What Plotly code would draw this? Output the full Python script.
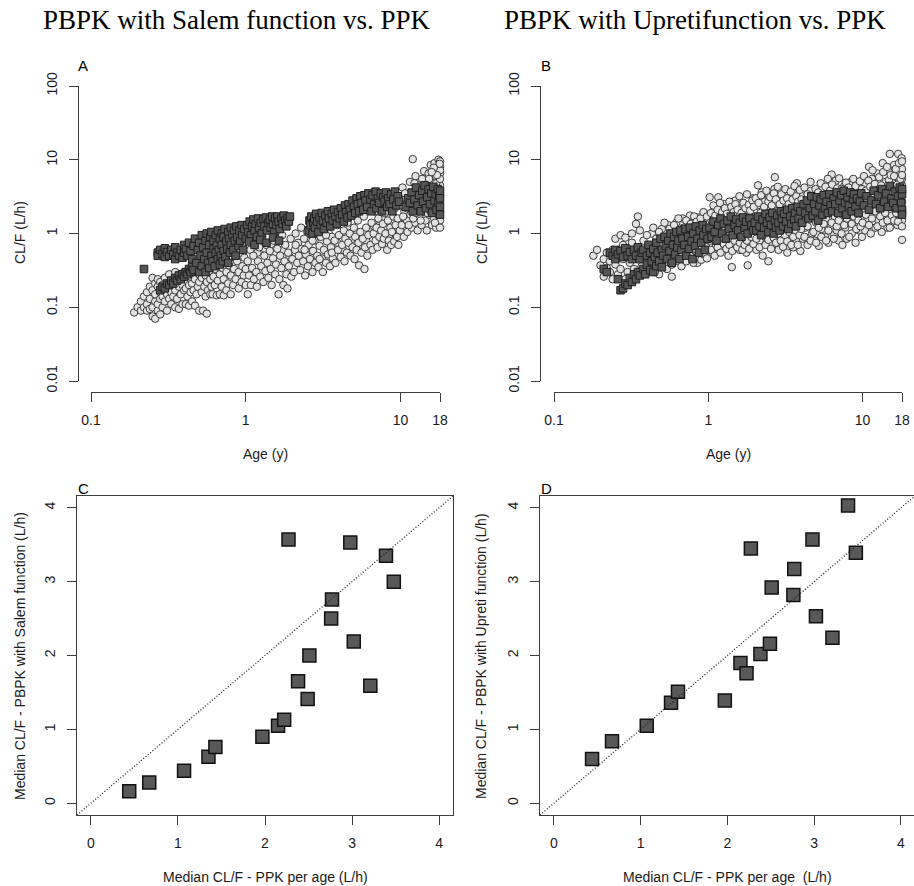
import math
import plotly.graph_objects as go

W, H = 914, 886

# ---------------- data ----------------
age_ticks = [0.1, 1, 10, 18]
age_ticktext = ["0.1", "1", "10", "18"]
cl_ticks = [0.01, 0.1, 1, 10, 100]
cl_ticktext = ["0.01", "0.1", "1", "10", "100"]
med_ticks = [0, 1, 2, 3, 4]

# Panel A: PPK individual CL/F (age, CL/F)
A_PPK = [
 (0.19,0.085),(0.20,0.10),(0.21,0.09),(0.21,0.12),(0.22,0.10),(0.22,0.14),(0.23,0.09),(0.23,0.16),(0.23,0.11),
 (0.24,0.095),(0.24,0.13),(0.24,0.19),(0.25,0.075),(0.25,0.10),(0.25,0.17),(0.25,0.25),(0.26,0.07),(0.26,0.12),
 (0.26,0.15),(0.26,0.21),(0.27,0.09),(0.27,0.11),(0.27,0.19),(0.27,0.24),(0.28,0.08),(0.28,0.13),(0.28,0.16),(0.28,0.22),
 (0.29,0.10),(0.29,0.14),(0.29,0.2),(0.30,0.12),(0.30,0.17),(0.30,0.25),(0.31,0.09),(0.31,0.15),(0.31,0.21),(0.32,0.13),
 (0.32,0.18),(0.32,0.28),(0.33,0.11),(0.33,0.16),(0.33,0.23),(0.34,0.14),(0.34,0.2),(0.35,0.1),(0.35,0.17),(0.35,0.3),
 (0.36,0.13),(0.36,0.22),(0.37,0.095),(0.37,0.19),(0.38,0.15),(0.38,0.26),(0.39,0.11),(0.39,0.2),(0.40,0.17),(0.40,0.3),
 (0.41,0.11),(0.41,0.18),(0.41,0.27),(0.42,0.14),(0.42,0.23),(0.43,0.105),(0.43,0.2),(0.43,0.33),(0.44,0.16),(0.44,0.26),
 (0.45,0.12),(0.45,0.21),(0.46,0.17),(0.46,0.3),(0.47,0.105),(0.47,0.24),(0.48,0.15),(0.48,0.36),(0.49,0.19),(0.5,0.09),
 (0.5,0.22),(0.5,0.28),(0.52,0.16),(0.52,0.25),(0.53,0.09),(0.53,0.34),(0.54,0.19),(0.55,0.14),(0.55,0.27),(0.56,0.082),
 (0.56,0.22),(0.57,0.17),(0.57,0.4),(0.58,0.3),(0.59,0.15),(0.59,0.24),(0.6,0.19),(0.6,0.45),
 (0.61,0.15),(0.62,0.26),(0.62,0.5),(0.63,0.2),(0.64,0.33),(0.65,0.145),(0.65,0.6),(0.66,0.23),(0.67,0.4),(0.68,0.15),
 (0.68,0.28),(0.7,0.19),(0.7,0.52),(0.71,0.34),(0.72,0.145),(0.72,0.24),(0.74,0.44),(0.75,0.17),(0.75,0.3),(0.77,0.21),
 (0.77,0.62),(0.78,0.37),(0.8,0.15),(0.8,0.27),(0.82,0.48),(0.83,0.2),(0.84,0.33),(0.86,0.24),(0.86,0.7),(0.88,0.42),
 (0.9,0.18),(0.9,0.3),(0.92,0.55),(0.94,0.22),(0.95,0.36),(0.97,0.27),(0.98,0.47),(1.0,0.2),(1.0,0.33),
 (0.55,0.35),(0.63,0.42),(0.73,0.52),(0.81,0.58),(0.89,0.62),(0.96,0.75),(1.06,0.85),(1.19,0.55),(1.33,0.62),
 (1.46,0.72),(1.61,0.44),(1.74,0.6),(1.92,0.48),
 (1.03,0.15),(1.03,0.42),(1.05,0.27),(1.07,0.6),(1.08,0.2),(1.1,0.34),(1.12,0.5),(1.13,0.24),(1.15,0.78),(1.17,0.3),
 (1.18,0.19),(1.2,0.42),(1.22,0.65),(1.24,0.26),(1.26,0.36),(1.28,0.9),(1.3,0.22),(1.32,0.5),(1.34,0.31),(1.36,0.7),
 (1.38,0.4),(1.4,0.25),(1.43,0.58),(1.45,0.33),(1.47,0.2),(1.5,0.46),(1.52,0.8),(1.55,0.28),(1.57,0.38),(1.6,0.62),
 (1.63,0.15),(1.65,0.24),(1.67,0.5),(1.7,0.34),(1.72,0.95),(1.75,0.2),(1.78,0.42),(1.8,0.7),(1.83,0.28),(1.86,0.18),
 (1.88,0.55),(1.9,0.36),(1.95,0.85),(1.97,0.26),(2.0,0.45),
 (2.05,0.3),(2.08,0.6),(2.1,1.0),(2.15,0.4),(2.18,0.75),(2.2,0.5),(2.25,0.32),(2.28,1.2),(2.3,0.62),(2.35,0.42),
 (2.38,0.85),(2.42,0.27),(2.45,0.52),(2.5,1.05),(2.52,0.36),(2.55,0.7),(2.6,0.45),(2.65,0.95),(2.7,0.3),(2.72,0.58),
 (2.78,0.8),(2.82,0.4),(2.88,1.15),(2.9,0.5),(2.95,0.35),(3.0,0.68),(3.05,0.9),(3.1,0.46),(3.15,0.3),(3.2,0.6),
 (3.25,1.2),(3.3,0.4),(3.35,0.78),(3.4,0.52),(3.45,1.0),(3.5,0.36),(3.55,0.65),(3.6,0.9),(3.65,0.46),
 (2.1,0.7),(2.4,0.6),(2.7,0.8),(3.0,0.45),(3.3,0.95),(3.6,0.55),(3.9,0.75),(4.25,0.6),(4.6,1.25),(4.9,0.85),
 (5.25,1.0),(5.6,0.7),(6.0,0.8),(6.35,1.1),(6.75,1.25),(7.05,0.95),(7.35,1.3),(7.7,1.6),(8.1,1.25),(8.45,0.95),
 (8.9,1.4),(9.35,1.15),(9.75,1.4),
 (3.75,0.8),(3.8,0.4),(3.9,1.3),(3.95,0.6),(4.0,0.95),(4.1,0.48),(4.15,1.6),(4.2,0.7),(4.3,1.1),(4.35,0.42),
 (4.4,0.85),(4.5,0.55),(4.55,1.4),(4.6,0.75),(4.7,1.0),(4.75,0.5),(4.8,1.8),(4.9,0.65),(5.0,1.2),(5.05,0.45),
 (5.1,0.9),(5.2,0.6),(5.3,1.5),(5.35,0.75),(5.4,0.37),(5.5,1.05),(5.6,0.55),(5.7,0.85),(5.8,1.7),(5.85,0.33),
 (5.9,0.65),(6.0,1.2),(6.1,0.5),(6.2,0.95),
 (6.4,0.7),(6.5,1.4),(6.6,0.6),(6.7,1.0),(6.8,2.0),(6.9,0.8),(7.0,1.2),(7.1,0.65),(7.2,1.6),(7.3,0.9),
 (7.4,2.4),(7.5,1.1),(7.6,0.72),(7.7,1.35),(7.8,0.85),(7.9,1.9),(8.0,1.0),(8.2,0.6),(8.3,1.5),(8.4,0.8),
 (8.5,2.6),(8.6,1.2),(8.7,0.7),(8.8,1.05),(9.0,1.7),(9.1,0.78),(9.2,2.2),(9.3,1.3),(9.5,0.9),(9.6,1.6),
 (9.7,0.7),(9.8,2.9),(9.9,1.1),
 (10.2,1.3),(10.3,4.2),(10.5,0.9),(10.6,2.0),(10.8,3.0),(11.0,1.5),(11.1,1.05),(11.3,2.5),(11.5,5.0),(11.6,1.8),
 (11.8,1.2),(12.0,10.2),(12.0,3.5),(12.2,2.2),(12.4,1.4),(12.5,6.0),(12.7,2.8),(12.9,1.1),(13.0,4.5),(13.2,1.7),
 (13.4,3.2),(13.5,2.3),(13.7,1.3),(13.8,5.5),(14.0,2.0),(14.2,7.0),(14.3,3.8),(14.5,1.5),(14.7,2.6),(14.8,1.1),
 (15.0,4.2),(15.2,6.5),(15.3,1.8),(15.5,3.0),(15.7,8.5),(15.8,2.2),(16.0,1.3),(16.1,5.0),(16.3,3.5),(16.5,1.6),
 (16.6,9.0),(16.7,2.5),(16.9,6.0),(17.0,1.2),(17.1,4.0),(17.3,2.9),(17.4,7.5),(17.5,1.8),(17.6,10.0),(17.7,5.0),
 (17.8,2.2),(17.9,3.4),(18.0,9.5),(18.0,6.5),(18.0,1.5),(18.0,2.6),(18.0,4.5),(18.0,8.0),
 (10.1,2.4),(10.4,1.7),(10.7,3.5),(11.0,2.2),(11.3,1.3),(11.7,3.0),(12.1,1.6),(12.3,4.8),(12.6,1.9),(12.9,3.3),
 (13.2,2.6),(13.5,1.5),(13.9,4.0),(14.2,2.3),(14.6,3.3),(14.9,1.9),(15.3,5.5),(15.6,2.0),(16.0,3.8),(16.3,2.4),
 (16.7,1.4),(17.0,4.8),(17.3,2.0),(17.6,3.0),(18.0,1.2),(18.0,3.3),(18.0,5.5),(18.0,7.2),(18.0,2.0),(17.9,8.8),
 (17.2,6.2),(16.4,7.8),(15.9,6.8),
]

# Panel A: PBPK (Salem function) individual CL/F
A_PBPK = [
 (0.22,0.33),(0.27,0.55),(0.27,0.5),(0.28,0.6),(0.28,0.17),(0.29,0.53),(0.29,0.19),(0.3,0.63),(0.3,0.48),(0.3,0.18),
 (0.31,0.56),(0.31,0.21),(0.32,0.5),(0.32,0.2),(0.33,0.6),(0.33,0.23),(0.34,0.52),(0.34,0.21),(0.35,0.65),(0.35,0.45),
 (0.35,0.25),(0.36,0.55),(0.36,0.23),(0.37,0.5),(0.37,0.27),(0.38,0.6),(0.38,0.24),(0.39,0.47),(0.39,0.28),(0.4,0.7),
 (0.4,0.55),(0.4,0.26),(0.41,0.62),(0.41,0.3),(0.42,0.5),(0.42,0.28),(0.43,0.75),(0.43,0.33),(0.44,0.58),(0.44,0.3),
 (0.45,0.45),(0.45,0.35),(0.46,0.68),(0.46,0.32),
 (0.47,0.85),(0.48,0.4),(0.49,0.6),(0.5,0.3),(0.5,0.75),(0.51,0.5),(0.52,0.95),(0.52,0.36),(0.53,0.65),(0.54,0.45),
 (0.55,0.8),(0.55,0.3),(0.56,1.0),(0.56,0.55),(0.57,0.4),(0.58,0.7),(0.58,0.34),(0.59,0.9),(0.6,0.5),(0.6,1.05),
 (0.61,0.42),(0.62,0.62),(0.62,0.8),(0.63,0.36),(0.64,0.95),(0.64,0.55),(0.65,0.7),(0.66,0.45),(0.66,1.1),(0.67,0.6),
 (0.68,0.85),(0.68,0.38),(0.69,0.5),(0.7,1.0),(0.7,0.7),(0.71,0.42),(0.72,0.9),(0.72,0.58),(0.73,1.15),(0.74,0.48),
 (0.75,0.78),(0.76,0.62),(0.77,1.05),(0.77,0.4),(0.78,0.85),(0.79,0.55),(0.8,1.2),(0.8,0.7),(0.82,0.95),(0.83,0.6),
 (0.84,1.1),(0.85,0.8),(0.86,0.5),(0.87,1.25),(0.88,0.9),(0.9,0.68),(0.91,1.1),(0.92,0.8),(0.94,1.3),(0.95,0.95),
 (0.96,0.6),(0.98,1.15),(1.0,0.85),
 (1.02,1.3),(1.04,1.05),(1.06,1.45),(1.08,0.95),(1.1,1.25),(1.12,1.55),(1.14,1.1),(1.16,1.35),(1.18,0.9),(1.2,1.6),
 (1.22,1.2),(1.25,1.4),(1.27,1.0),(1.3,1.55),(1.32,1.25),(1.35,1.65),(1.37,1.1),(1.4,1.4),(1.43,1.55),(1.45,1.2),
 (1.48,1.7),(1.5,1.35),(1.53,1.05),(1.55,1.6),(1.58,1.3),(1.6,1.7),(1.63,1.45),(1.66,1.15),(1.7,1.6),(1.73,1.35),
 (1.76,1.75),(1.8,1.5),(1.83,1.25),(1.86,1.6),(1.9,1.45),(1.93,1.7),
 (1.05,0.78),(1.14,0.7),(1.24,0.82),(1.36,0.75),(1.5,0.88),(1.64,0.8),
 (2.55,1.1),(2.58,1.5),(2.62,1.3),(2.65,1.7),(2.7,1.0),(2.73,1.4),(2.77,1.6),(2.8,1.2),(2.85,1.85),(2.9,1.45),
 (2.95,1.05),(3.0,1.65),(3.05,1.3),(3.1,1.9),(3.15,1.5),(3.2,1.15),(3.27,1.75),(3.33,1.4),(3.4,2.0),(3.45,1.6),
 (3.52,1.25),(3.6,1.85),(3.65,1.5),(3.72,2.1),(3.8,1.7),(3.88,1.35),(3.95,1.95),
 (4.05,1.6),(4.12,2.2),(4.2,1.8),(4.3,1.45),(4.38,2.4),(4.45,1.95),(4.55,1.65),(4.62,2.5),(4.7,2.1),(4.8,1.75),
 (4.9,2.8),(5.0,2.3),(5.1,1.9),(5.2,3.0),(5.3,2.5),(5.4,2.0),(5.5,3.2),(5.6,2.6),(5.75,2.1),(5.85,3.3),
 (5.95,2.8),(6.1,2.3),(6.2,3.5),
 (6.4,2.9),(6.5,2.0),(6.6,3.3),(6.75,2.5),(6.9,3.7),(7.0,2.2),(7.15,3.0),(7.3,2.6),(7.45,3.5),(7.6,2.0),
 (7.75,3.1),(7.9,2.7),(8.05,3.6),(8.2,2.3),(8.35,3.0),(8.5,2.5),(8.7,3.4),(8.85,2.0),(9.0,2.9),(9.2,3.7),
 (9.4,2.4),(9.6,3.2),(9.8,2.7),
 (10.8,2.3),(11.2,3.0),(11.5,2.6),(11.8,3.6),(12.0,2.0),(12.3,2.9),(12.6,4.2),(12.9,2.4),(13.2,3.3),(13.5,2.0),
 (13.8,3.8),(14.0,2.7),(14.3,4.5),(14.6,2.2),(14.9,3.1),(15.2,4.0),(15.5,2.5),(15.8,3.5),(16.0,1.9),(16.3,4.3),
 (16.6,2.8),(16.9,3.4),(17.1,2.1),(17.4,4.0),(17.6,2.6),(17.8,3.2),(18.0,1.8),(18.0,2.3),(18.0,3.0),(18.0,3.8),
]

# Panel B: PPK individual CL/F
B_PPK = [
 (0.18,0.5),(0.19,0.6),(0.2,0.37),(0.21,0.45),(0.21,0.26),(0.22,0.34),(0.22,0.55),(0.23,0.3),(0.23,0.42),(0.24,0.6),
 (0.24,0.24),(0.25,0.38),(0.25,0.85),(0.26,0.5),(0.26,0.28),(0.27,0.95),(0.27,0.33),(0.28,0.7),(0.28,0.45),(0.29,0.24),
 (0.29,0.88),(0.3,0.55),(0.3,0.3),(0.31,0.4),(0.34,1.35),(0.35,1.7),
 (0.32,0.75),(0.33,0.27),(0.34,0.5),(0.36,0.62),(0.37,0.36),(0.38,0.8),(0.39,0.45),(0.4,0.3),(0.41,0.7),(0.42,0.52),
 (0.43,1.0),(0.44,0.38),(0.45,0.6),(0.46,0.85),(0.47,0.45),(0.48,0.28),(0.49,0.7),(0.5,1.15),(0.51,0.55),(0.52,0.4),
 (0.53,0.9),(0.54,0.62),(0.55,1.3),(0.56,0.48),(0.57,0.75),(0.58,0.26),
 (0.59,1.0),(0.6,0.55),(0.62,1.4),(0.63,0.7),(0.64,0.42),(0.66,1.1),(0.67,0.6),(0.68,1.6),(0.7,0.85),(0.71,0.45),
 (0.73,1.25),(0.74,0.68),(0.76,1.75),(0.77,0.5),(0.78,0.95),(0.8,1.4),(0.82,0.62),(0.83,1.1),(0.85,0.4),(0.86,1.65),
 (0.88,0.8),(0.9,1.25),(0.92,0.55),(0.94,1.85),(0.95,0.95),(0.97,0.65),(0.99,1.4),
 (1.02,3.1),(1.03,0.8),(1.05,1.5),(1.07,0.55),(1.09,1.1),(1.1,2.2),(1.12,0.7),(1.14,1.35),(1.16,3.1),(1.18,0.9),
 (1.2,1.8),(1.22,0.6),(1.25,1.2),(1.27,2.5),(1.3,0.8),(1.33,1.55),(1.35,0.5),(1.38,1.05),(1.4,2.0),(1.42,0.35),
 (1.45,1.3),(1.48,0.7),(1.5,2.8),(1.53,1.0),(1.56,1.7),(1.6,0.6),(1.63,1.2),(1.66,2.3),(1.7,0.85),(1.73,1.5),
 (1.76,0.55),(1.8,0.37),(1.82,1.1),(1.85,1.9),(1.88,0.7),(1.92,1.35),(1.95,3.0),(1.98,0.95),
 (2.02,1.6),(2.05,0.6),(2.08,2.4),(2.1,4.5),(2.12,1.1),(2.15,0.8),(2.18,1.9),(2.22,3.6),(2.25,0.5),(2.28,1.3),
 (2.32,2.7),(2.35,0.9),(2.4,1.7),(2.45,0.42),(2.47,3.3),(2.5,1.15),(2.55,2.2),(2.6,0.7),(2.63,1.5),(2.68,4.0),
 (2.7,5.8),(2.72,0.95),(2.76,2.0),(2.8,1.3),(2.85,0.6),(2.9,2.9),(2.95,1.1),(3.0,1.8),(3.1,0.75),(3.15,1.45),
 (3.2,2.5),(3.25,0.55),(3.3,1.2),(3.35,3.5),(3.4,0.9),(3.45,2.1),(3.5,1.6),(3.55,0.65),(3.6,2.8),(3.65,1.3),
 (3.7,0.8),(3.72,4.2),(3.75,4.8),(3.8,1.9),(3.85,1.05),(3.9,2.4),(3.95,0.58),(4.0,1.5),(4.05,3.2),(4.1,0.85),(4.15,2.0),
 (4.25,1.2),(4.3,2.6),(4.4,0.7),(4.5,1.7),(4.6,3.8),(4.7,1.0),(4.8,2.2),(4.9,0.8),(5.0,1.4),(5.1,3.0),
 (5.2,0.68),(5.3,1.9),(5.4,1.15),(5.5,4.2),(5.6,2.5),(5.7,0.9),(5.8,1.6),(5.9,3.3),(6.0,0.75),(6.1,2.0),
 (6.2,1.3),(6.3,6.3),(6.4,2.8),(6.5,0.95),(6.6,1.7),(6.7,5.2),(6.8,1.1),(6.9,2.3),(7.0,0.8),(7.1,3.6),
 (7.2,1.45),(7.3,2.6),(7.4,0.7),(7.5,1.9),(7.6,4.4),(7.7,1.2),(7.8,3.0),(7.9,0.85),(8.0,2.1),(8.2,1.5),
 (8.4,5.0),(8.5,1.0),(8.6,2.5),(8.8,3.6),(8.9,1.3),(9.0,0.75),(9.2,2.0),(9.3,4.0),(9.5,1.1),(9.6,2.8),
 (9.8,1.6),(9.9,0.9),
 (10.1,2.0),(10.3,4.6),(10.4,1.1),(10.6,3.0),(10.8,1.6),(11.0,8.0),(11.1,2.4),(11.3,1.0),(11.5,5.5),(11.7,1.8),
 (11.9,3.5),(12.1,1.2),(12.3,2.6),(12.5,6.5),(12.7,1.5),(12.9,4.0),(13.1,2.1),(13.3,1.05),(13.5,9.0),(13.7,3.0),
 (13.9,1.7),(14.1,5.0),(14.3,2.4),(14.5,1.2),(14.7,7.0),(14.9,3.5),(15.0,12.0),(15.2,1.9),(15.4,4.5),(15.6,2.8),
 (15.8,1.4),(16.0,8.5),(16.2,3.2),(16.4,2.0),(16.6,5.8),(16.8,1.3),(17.0,12.0),(17.1,3.8),(17.3,2.3),(17.5,6.8),
 (17.6,1.6),(17.8,4.8),(17.9,10.5),(18.0,2.7),(18.0,1.5),(18.0,3.6),(18.0,5.5),(18.0,7.5),(18.0,0.82),(18.0,2.1),
 # above the PBPK band
 (0.32,1.0),(0.36,1.1),(0.4,0.95),(0.44,1.2),(0.48,1.05),(0.52,1.4),(0.56,1.15),(0.6,1.3),(0.64,1.6),(0.69,1.2),
 (0.72,1.5),(0.77,1.35),(0.81,1.7),(0.84,1.45),(0.89,1.6),(0.93,1.95),(0.98,1.7),
 (1.04,1.9),(1.08,2.4),(1.11,1.75),(1.15,2.1),(1.19,2.6),(1.23,1.95),(1.28,2.2),(1.32,1.85),(1.37,2.7),(1.41,2.3),
 (1.46,1.95),(1.5,2.5),(1.55,2.1),(1.59,3.2),(1.64,1.9),(1.69,2.6),(1.74,2.2),(1.78,3.4),(1.83,2.45),(1.87,2.05),
 (1.93,2.8),(1.97,2.3),
 (2.03,3.0),(2.12,2.6),(2.2,3.3),(2.3,2.3),(2.38,3.8),(2.45,2.7),(2.52,3.1),(2.58,2.4),(2.66,3.5),(2.74,2.9),
 (2.82,4.3),(2.9,2.5),(2.98,3.4),(3.07,2.8),(3.16,4.0),(3.24,3.0),(3.32,2.5),(3.42,3.7),(3.52,2.9),(3.62,4.4),
 (3.72,3.2),(3.82,2.7),(3.92,3.9),(4.02,2.9),
 (4.2,4.2),(4.4,3.4),(4.6,5.0),(4.75,3.0),(4.95,4.0),(5.15,3.6),(5.35,4.8),(5.55,3.1),(5.75,4.3),(5.95,5.5),
 (6.15,3.8),(6.35,4.6),(6.6,3.5),(6.85,4.1),(7.05,5.6),(7.3,4.0),(7.55,3.3),(7.8,4.9),(8.1,4.2),(8.35,3.6),
 (8.7,5.5),(9.0,4.4),(9.3,3.5),(9.6,5.1),(9.9,4.0),
 (10.2,6.0),(10.5,3.8),(10.9,5.2),(11.2,4.3),(11.6,7.2),(12.0,4.7),(12.4,3.9),(12.8,5.8),(13.2,4.5),(13.6,6.8),
 (14.0,3.9),(14.4,8.0),(14.8,5.3),(15.2,6.2),(15.6,4.2),(16.0,6.0),(16.4,7.5),(16.8,4.6),(17.2,9.0),(17.6,5.5),
 (18.0,4.4),(18.0,6.2),(18.0,9.5),
 # below the PBPK band
 (0.33,0.33),(0.37,0.28),(0.41,0.36),(0.45,0.3),(0.5,0.4),(0.54,0.33),(0.58,0.38),(0.62,0.45),(0.67,0.36),(0.72,0.42),
 (0.76,0.5),(0.8,0.4),(0.85,0.48),(0.9,0.44),(0.94,0.52),(0.98,0.46),
 (1.04,0.6),(1.1,0.5),(1.15,0.65),(1.2,0.55),(1.26,0.72),(1.31,0.62),(1.37,0.7),(1.43,0.58),(1.48,0.8),(1.54,0.65),
 (1.6,0.75),(1.66,0.6),(1.72,0.7),(1.78,0.8),(1.84,0.62),(1.9,0.9),(1.96,0.72),
 (2.05,0.85),(2.15,0.65),(2.25,0.95),(2.35,0.7),(2.45,0.82),(2.55,0.62),(2.65,0.88),(2.75,0.75),(2.85,1.0),(2.95,0.8),
 (3.05,0.66),(3.15,0.95),(3.25,0.78),(3.35,1.05),(3.45,0.7),(3.55,0.9),(3.7,1.1),(3.8,0.7),(3.9,0.95),(4.0,1.15),
 (4.2,0.9),(4.4,1.25),(4.6,0.8),(4.8,1.05),(5.0,0.75),(5.2,1.2),(5.4,0.9),(5.6,1.35),(5.8,0.8),(6.0,1.1),
 (6.3,1.4),(6.5,0.85),(6.8,1.25),(7.0,1.5),(7.3,1.0),(7.6,1.3),(7.9,1.6),(8.2,0.9),(8.5,1.35),(8.8,1.7),
 (9.1,1.15),(9.4,1.5),(9.7,1.25),
 (10.0,1.4),(10.5,1.8),(11.0,1.3),(11.5,1.6),(12.0,2.0),(12.5,1.25),(13.0,1.7),(13.5,1.4),(14.0,1.9),(14.5,1.5),
 (15.0,1.2),(15.5,1.75),(16.0,1.5),(16.5,1.9),(17.0,1.45),(17.5,2.1),(18.0,1.25),(18.0,1.8),
]

# Panel B: PBPK (Upreti function) individual CL/F
B_PBPK = [
 (0.21,0.33),(0.22,0.3),(0.23,0.55),(0.24,0.5),(0.25,0.6),(0.25,0.45),(0.26,0.52),(0.26,0.24),(0.27,0.17),(0.27,0.58),
 (0.28,0.48),(0.28,0.18),(0.29,0.63),(0.29,0.21),(0.3,0.5),(0.3,0.2),(0.31,0.56),(0.31,0.25),(0.32,0.45),(0.32,0.22),
 (0.33,0.6),(0.33,0.28),(0.34,0.5),(0.34,0.24),(0.35,0.65),(0.35,0.3),(0.36,0.45),(0.36,0.27),(0.37,0.55),(0.38,0.33),
 (0.38,0.6),(0.39,0.28),(0.4,0.5),(0.4,0.38),(0.41,0.7),(0.42,0.32),(0.42,0.55),(0.43,0.42),(0.44,0.3),(0.44,0.62),
 (0.45,0.48),(0.46,0.36),(0.46,0.75),(0.47,0.55),(0.48,0.42),(0.49,0.85),(0.5,0.6),(0.5,0.35),(0.51,0.5),(0.52,0.9),
 (0.53,0.68),(0.54,0.45),(0.55,0.8),(0.56,0.58),(0.57,1.0),(0.58,0.4),(0.59,0.7),(0.6,0.9),(0.61,0.52),(0.62,1.05),
 (0.63,0.65),(0.64,0.8),(0.65,0.45),(0.66,1.1),(0.67,0.6),(0.68,0.85),(0.7,0.7),(0.71,1.15),(0.72,0.5),(0.74,0.9),
 (0.75,0.62),(0.76,1.2),(0.78,0.78),(0.79,0.45),(0.8,1.0),(0.82,0.68),(0.83,1.25),(0.85,0.85),(0.87,0.55),(0.88,1.1),
 (0.9,0.75),(0.92,1.3),(0.93,0.95),(0.95,0.6),(0.97,1.15),(0.99,0.85),
 (1.02,1.2),(1.05,0.9),(1.08,1.45),(1.1,1.05),(1.13,0.8),(1.16,1.3),(1.2,1.6),(1.23,1.0),(1.26,1.35),(1.3,0.85),
 (1.33,1.5),(1.36,1.15),(1.4,1.7),(1.44,0.95),(1.48,1.3),(1.52,1.55),(1.56,1.1),(1.6,1.4),(1.64,0.9),(1.68,1.65),
 (1.72,1.2),(1.76,1.45),(1.8,1.0),(1.85,1.6),(1.9,1.3),(1.95,1.1),
 (2.0,1.4),(2.05,1.1),(2.1,1.7),(2.15,1.25),(2.2,0.95),(2.25,1.55),(2.3,1.2),(2.35,1.85),(2.4,1.4),(2.45,1.05),
 (2.5,1.65),(2.55,1.3),(2.6,1.9),(2.65,1.0),(2.7,1.5),(2.75,1.2),(2.8,1.75),(2.85,1.4),(2.9,1.1),(2.95,2.0),
 (3.0,1.6),(3.05,1.25),(3.1,1.85),(3.2,1.45),(3.25,2.1),(3.3,1.15),(3.4,1.7),(3.45,1.35),(3.5,2.2),(3.6,1.55),
 (3.65,1.9),(3.7,1.25),(3.8,2.3),(3.85,1.6),(3.95,2.0),(4.05,1.4),(4.15,2.5),
 (4.25,1.9),(4.35,2.8),(4.45,1.6),(4.55,2.2),(4.65,3.2),(4.75,1.75),(4.85,2.5),(4.95,2.0),(5.05,3.1),(5.15,1.5),
 (5.25,2.4),(5.35,2.9),(5.5,1.8),(5.6,3.3),(5.7,2.2),(5.85,2.7),(5.95,1.9),(6.1,3.4),(6.2,2.4),
 (6.35,2.0),(6.5,3.0),(6.65,2.5),(6.8,3.6),(6.95,1.9),(7.1,2.8),(7.25,3.3),(7.4,2.2),(7.55,3.8),(7.7,2.6),
 (7.85,1.8),(8.0,3.1),(8.15,2.4),(8.3,3.6),(8.5,2.0),(8.65,2.9),(8.8,3.4),(9.0,2.3),(9.2,3.0),(9.4,1.9),
 (9.6,2.7),(9.8,3.5),
 (10.2,2.4),(10.6,3.2),(11.0,2.1),(11.4,2.8),(11.8,3.8),(12.2,2.5),(12.6,3.3),(13.0,2.2),(13.4,4.0),(13.8,2.7),
 (14.2,3.5),(14.6,2.3),(15.0,4.4),(15.4,3.0),(15.8,2.6),(16.2,3.7),(16.6,2.2),(17.0,3.2),(17.4,4.2),(17.8,2.6),
 (18.0,3.4),(18.0,2.1),(18.0,4.0),(18.0,1.8),
]

# Panels C and D: median CL/F per age group
median_ppk = [0.44, 0.67, 1.07, 1.35, 1.43, 1.97, 2.15, 2.22, 2.38, 2.49, 2.51, 2.27, 2.76, 2.77, 2.98, 3.02, 3.21, 3.39, 3.48]
median_salem = [0.16, 0.28, 0.44, 0.63, 0.76, 0.90, 1.05, 1.13, 1.65, 1.41, 2.00, 3.57, 2.50, 2.76, 3.53, 2.19, 1.59, 3.35, 3.00]
median_upreti = [0.60, 0.84, 1.05, 1.36, 1.51, 1.39, 1.90, 1.76, 2.02, 2.16, 2.92, 3.45, 2.82, 3.17, 3.57, 2.53, 2.24, 4.03, 3.39]

# ---------------- styling / layout helpers ----------------
def fx(p):
    return p / W

def fy(p):
    return 1 - p / H

AX = "#3c3c3c"
TICKFONT = dict(family="Liberation Sans, Arial, sans-serif", size=14, color="#1a1a1a")
LABFONT = dict(family="Liberation Sans, Arial, sans-serif", size=14, color="#1a1a1a")

circle_m = dict(symbol="circle", size=7.5, color="#e2e2e2", line=dict(color="#3a3a3a", width=1))
square_m = dict(symbol="square", size=7.5, color="#565656", line=dict(color="#1e1e1e", width=1))
big_square_m = dict(symbol="square", size=13, color="#585858", line=dict(color="#111111", width=1.5))

fig = go.Figure()

def add_pts(pts, marker, xa, ya):
    xs = [p[0] for p in pts]
    ys = [p[1] for p in pts]
    fig.add_trace(go.Scatter(x=xs, y=ys, mode="markers", marker=marker, xaxis=xa, yaxis=ya,
                             cliponaxis=False, showlegend=False, hoverinfo="skip"))

add_pts(A_PPK, circle_m, "x", "y")
add_pts(A_PBPK, square_m, "x", "y")
add_pts(B_PPK, circle_m, "x2", "y2")
add_pts(B_PBPK, square_m, "x2", "y2")

fig.add_trace(go.Scatter(x=median_ppk, y=median_salem, mode="markers", marker=big_square_m,
                         xaxis="x3", yaxis="y3", cliponaxis=False, showlegend=False, hoverinfo="skip"))
fig.add_trace(go.Scatter(x=median_ppk, y=median_upreti, mode="markers", marker=big_square_m,
                         xaxis="x4", yaxis="y4", cliponaxis=False, showlegend=False, hoverinfo="skip"))

age_range = [math.log10(age_ticks[0]), math.log10(age_ticks[-1])]
cl_range = [math.log10(cl_ticks[0]), math.log10(cl_ticks[-1])]
c_range = [-0.16, 4.16]
d_xrange = [-0.16, 4.15]

COMMON = dict(showline=True, linecolor=AX, linewidth=1, ticks="outside", ticklen=9, tickcolor=AX,
              tickwidth=1, showgrid=False, zeroline=False, tickfont=TICKFONT, fixedrange=True,
              automargin=False, ticklabeloverflow="allow", ticklabelstandoff=6)

def log_x(domain, pos):
    return dict(type="log", domain=domain, range=age_range, anchor="free", position=pos,
                tickvals=age_ticks, ticktext=age_ticktext, **COMMON)

def log_y(domain, pos):
    return dict(type="log", domain=domain, range=cl_range, anchor="free", position=pos,
                tickvals=cl_ticks, ticktext=cl_ticktext, tickangle=-90, **COMMON)

def lin_ax(domain, rng, anchor, angle=0):
    return dict(domain=domain, range=rng, anchor=anchor, mirror=True, tickvals=med_ticks,
                tickangle=angle, **COMMON)

top_ydom = [fy(381), fy(86)]
bot_ydom = [fy(815), fy(496)]

fig.update_layout(
    width=W, height=H, margin=dict(l=0, r=0, t=0, b=0, autoexpand=False),
    paper_bgcolor="white", plot_bgcolor="white",
    xaxis=log_x([fx(91), fx(440)], fy(392)),
    yaxis=log_y(top_ydom, fx(78)),
    xaxis2=log_x([fx(554), fx(902)], fy(392)),
    yaxis2=log_y(top_ydom, fx(540)),
    xaxis3=lin_ax([fx(77), fx(453)], c_range, "y3"),
    yaxis3=lin_ax(bot_ydom, c_range, "x3", -90),
    xaxis4=lin_ax([fx(540), 1.0], d_xrange, "y4"),
    yaxis4=lin_ax(bot_ydom, c_range, "x4", -90),
)

# identity (dotted) lines in C and D
DOT = dict(color="#222222", width=1.3, dash="1px,2px")
fig.add_shape(type="line", xref="x3", yref="y3", x0=c_range[0], y0=c_range[0], x1=c_range[1], y1=c_range[1], line=DOT)
fig.add_shape(type="line", xref="x4", yref="y4", x0=d_xrange[0], y0=d_xrange[0], x1=d_xrange[1], y1=d_xrange[1], line=DOT)

def ann(text, x, y, font, angle=0, xanchor="center"):
    fig.add_annotation(text=text, x=fx(x), y=fy(y), xref="paper", yref="paper", showarrow=False,
                       font=font, textangle=angle, xanchor=xanchor, yanchor="middle")

TITLEFONT = dict(family="Liberation Serif, Times New Roman, serif", size=27, color="black")
LETTERFONT = dict(family="Liberation Sans, Arial, sans-serif", size=15, color="black")

ann("PBPK with Salem function vs. PPK", 237, 20, TITLEFONT)
ann("PBPK with Upretifunction vs. PPK", 695, 20, TITLEFONT)
ann("A", 83, 65, LETTERFONT)
ann("B", 546, 65, LETTERFONT)
ann("C", 83, 488, LETTERFONT)
ann("D", 546, 488, LETTERFONT)

ann("Age (y)", 265, 454, LABFONT)
ann("Age (y)", 728, 454, LABFONT)
ann("CL/F (L/h)", 20, 233, LABFONT, -90)
ann("CL/F (L/h)", 482, 233, LABFONT, -90)
ann("Median CL/F - PBPK with Salem function (L/h)", 20, 656, LABFONT, -90)
ann("Median CL/F - PBPK with Upreti function (L/h)", 481, 656, LABFONT, -90)
ann("Median CL/F - PPK per age (L/h)", 265, 877, LABFONT)
ann("Median CL/F - PPK per age  (L/h)", 727, 877, LABFONT)

# remove the browser's default page margin so the figure sits at the top-left corner
fig.write_html("out.html", config={"displayModeBar": False},
               post_script="document.body.style.margin='0';document.body.style.overflow='hidden';")
